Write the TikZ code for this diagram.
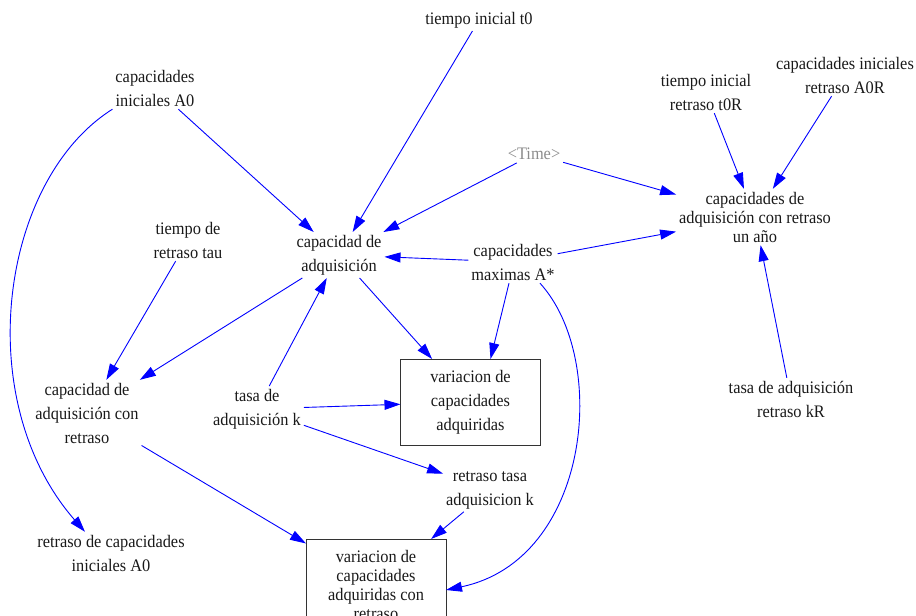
\documentclass[tikz,border=0pt]{standalone}
\usepackage{fontspec}
\setmainfont[FakeStretch=0.93]{Liberation Serif}
\usetikzlibrary{arrows.meta}
\definecolor{linkblue}{RGB}{0,0,255}
\begin{document}
\begin{tikzpicture}[x=1pt,y=-1pt,
  lbl/.style={align=center, inner sep=3pt, outer sep=0pt, font=\fontsize{17.6}{24}\selectfont, text=black!90},
  tight/.style={font=\fontsize{17.6}{19}\selectfont},
  box/.style={lbl, draw=black!80, line width=0.9pt, minimum width=140pt},
  link/.style={draw=linkblue, line width=0.9pt, -{Triangle[length=16pt,width=10pt]}},
]
\useasboundingbox (0,0) rectangle (916,616);
\clip (0,0) rectangle (916,616);

\node[lbl] (t0) at (479,20) {tiempo inicial t0};
\node[lbl] (A0) at (155,88) {capacidades\\iniciales A0};
\node[lbl] (t0R) at (706,92) {tiempo inicial\\retraso t0R};
\node[lbl] (A0R) at (845,75) {capacidades iniciales\\retraso A0R};
\node[lbl, text=black!45] (time) at (534,154) {<Time>};
\node[lbl, tight] (capR) at (755,217) {capacidades de\\adquisición con retraso\\un año};
\node[lbl] (cap) at (339,255) {capacidad de\\adquisición};
\node[lbl] (max) at (513,262) {capacidades\\maximas A*};
\node[lbl] (tau) at (188,240) {tiempo de\\retraso tau};
\node[lbl] (capD) at (87,413) {capacidad de\\adquisición con\\retraso};
\node[lbl] (k) at (257,409) {tasa de\\adquisición k};
\node[box, minimum height=86pt] (b1) at (470.5,402) {variacion de\\capacidades\\adquiridas};
\node[lbl] (kD) at (490,490) {retraso tasa\\adquisicion k};
\node[lbl] (kR) at (791,399) {tasa de adquisición\\retraso kR};
\node[lbl] (rA0) at (111,553) {retraso de capacidades\\iniciales A0};
\node[box, tight, anchor=north, minimum height=92pt] (b2) at (376,539) {variacion de\\capacidades\\adquiridas con\\retraso};

\draw[link] (A0) -- (cap);
\draw[link] (t0) -- (cap);
\draw[link] (time) -- (cap);
\draw[link] (time) -- (capR);
\draw[link] (max) -- (cap);
\draw[link] (max) -- (capR);
\draw[link] (t0R) -- (capR);
\draw[link] (A0R) -- (capR);
\draw[link] (kR) -- (capR);
\draw[link] (cap) -- (capD);
\draw[link] (tau) -- (capD);
\draw[link] (k) -- (cap);
\draw[link] (cap) -- (b1);
\draw[link] ([xshift=-4pt]max.south) -- ([xshift=20pt]b1.north);
\draw[link] (k) -- (b1);
\draw[link] (k) -- (kD);
\draw[link] (kD) -- (b2);
\draw[link] (capD) -- (b2);
\draw[link] ([xshift=27pt]max.south) .. controls (610,360) and (590,560) .. ([yshift=-5pt]b2.east);
\draw[link] (A0.south west) .. controls (0,180) and (-30,400) .. ([xshift=-26pt]rA0.north);
\end{tikzpicture}
\end{document}
